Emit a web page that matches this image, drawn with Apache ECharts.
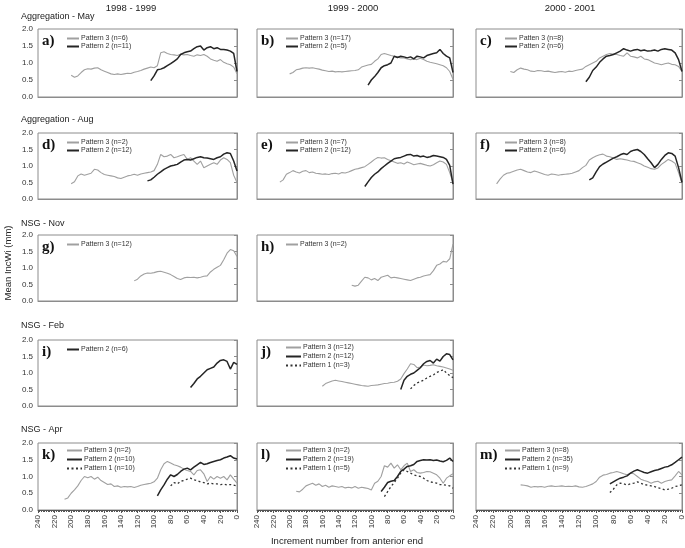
<!DOCTYPE html>
<html><head><meta charset="utf-8">
<script src="https://cdn.jsdelivr.net/npm/echarts@6/dist/echarts.min.js"></script>
<style>html,body{margin:0;padding:0;background:#fff}#c{width:685px;height:548px}</style>
</head><body><div id="c"></div>
<script>
// ---- DATA (values sampled every 4 increments, last value = increment 0) ----
const xTicks = [240,220,200,180,160,140,120,100,80,60,40,20,0];
const yTicks = [0.0,0.5,1.0,1.5,2.0];
const colTitles = ['1998 - 1999','1999 - 2000','2000 - 2001'];
const rowTitles = ['Aggregation - May','Aggregation - Aug','NSG - Nov','NSG - Feb','NSG - Apr'];

const a_p3 = [0.64,0.58,0.62,0.72,0.80,0.83,0.82,0.85,0.86,0.80,0.76,0.72,0.68,0.66,0.68,0.66,0.68,0.70,0.69,0.73,0.75,0.78,0.82,0.85,0.88,0.86,0.92,1.30,1.33,1.28,1.25,1.24,1.22,1.26,1.24,1.25,1.22,1.20,1.24,1.22,1.25,1.20,1.12,1.08,1.05,1.10,1.02,0.98,0.95,0.88,0.68];
const a_p2 = [0.48,0.62,0.80,0.82,0.86,0.92,0.98,1.05,1.12,1.25,1.30,1.33,1.35,1.42,1.48,1.50,1.38,1.45,1.48,1.42,1.45,1.40,1.40,1.38,1.35,1.28,0.75];

const b_p3 = [0.68,0.72,0.80,0.82,0.85,0.86,0.85,0.86,0.84,0.82,0.79,0.77,0.75,0.76,0.74,0.75,0.74,0.75,0.76,0.77,0.78,0.80,0.88,0.91,0.94,0.96,1.05,1.12,1.25,1.28,1.25,1.22,1.20,1.18,1.15,1.15,1.12,1.10,1.12,1.10,1.14,1.10,1.05,1.02,1.00,0.98,0.95,0.92,0.86,0.75,0.52];
const b_p2 = [0.35,0.50,0.60,0.72,0.86,0.92,0.95,1.00,1.20,1.16,1.20,1.18,1.15,1.18,1.12,1.20,1.18,1.15,1.22,1.25,1.28,1.30,1.40,1.28,1.20,1.15,0.72];

const c_p3 = [0.75,0.72,0.80,0.85,0.82,0.80,0.76,0.75,0.78,0.77,0.75,0.76,0.74,0.72,0.74,0.75,0.73,0.76,0.75,0.78,0.80,0.82,0.90,0.95,1.00,1.05,1.15,1.20,1.25,1.28,1.26,1.25,1.22,1.20,1.30,1.20,1.18,1.15,1.20,1.12,1.10,1.05,1.00,0.98,0.95,0.98,1.00,0.96,0.95,0.90,0.75];
const c_p2 = [0.45,0.58,0.78,0.88,1.02,1.12,1.20,1.22,1.25,1.30,1.35,1.42,1.38,1.35,1.38,1.40,1.36,1.38,1.35,1.36,1.38,1.35,1.40,1.42,1.40,1.38,1.30,1.10,0.75];

const d_p3 = [0.46,0.52,0.70,0.76,0.72,0.75,0.78,0.90,0.88,0.80,0.74,0.72,0.70,0.68,0.64,0.62,0.66,0.70,0.72,0.75,0.72,0.76,0.78,0.80,0.82,0.86,1.05,1.35,1.28,1.30,1.35,1.25,1.28,1.32,1.35,1.20,1.25,1.15,1.05,1.15,0.95,1.00,1.05,1.10,1.05,1.18,1.25,1.20,1.10,0.72,0.50];
const d_p2 = [0.55,0.58,0.66,0.75,0.82,0.90,0.95,1.00,1.02,1.05,1.12,1.18,1.20,1.18,1.22,1.26,1.28,1.25,1.24,1.22,1.20,1.25,1.28,1.36,1.40,1.38,1.15,0.85];

const e_p3 = [0.51,0.58,0.75,0.80,0.86,0.82,0.79,0.84,0.86,0.80,0.82,0.78,0.77,0.75,0.76,0.74,0.77,0.78,0.76,0.80,0.79,0.82,0.86,0.90,0.92,0.95,0.98,1.05,1.12,1.20,1.26,1.24,1.25,1.20,1.16,1.12,1.08,1.10,1.06,1.12,1.08,1.04,1.06,1.08,1.05,1.02,1.00,1.04,1.10,1.15,1.12,1.05,0.80,0.50];
const e_p2 = [0.38,0.52,0.65,0.75,0.82,0.92,1.00,1.08,1.15,1.22,1.24,1.26,1.30,1.34,1.35,1.30,1.32,1.28,1.30,1.26,1.28,1.32,1.30,1.28,1.26,1.20,1.02,0.45];

const f_p3 = [0.46,0.60,0.72,0.78,0.80,0.84,0.88,0.90,0.86,0.82,0.80,0.85,0.82,0.78,0.74,0.72,0.76,0.74,0.72,0.74,0.75,0.76,0.78,0.82,0.86,0.95,1.02,1.18,1.25,1.30,1.34,1.36,1.30,1.28,1.24,1.20,1.22,1.20,1.18,1.15,1.14,1.10,1.06,1.00,0.96,0.92,0.90,0.94,1.05,1.12,1.20,1.15,1.08,0.80,0.48];
const f_p2 = [0.58,0.64,0.82,0.98,1.06,1.12,1.18,1.24,1.28,1.34,1.38,1.35,1.44,1.48,1.50,1.44,1.35,1.22,1.10,0.95,1.05,1.20,1.32,1.40,1.38,1.30,0.95,0.50];

const g_p3 = [0.61,0.66,0.76,0.82,0.85,0.84,0.86,0.89,0.90,0.87,0.84,0.80,0.74,0.68,0.65,0.70,0.72,0.71,0.72,0.70,0.72,0.75,0.76,0.88,0.96,1.02,1.08,1.25,1.45,1.56,1.52,1.35];

const h_p3 = [0.48,0.45,0.48,0.60,0.72,0.70,0.64,0.68,0.62,0.72,0.75,0.78,0.70,0.72,0.70,0.68,0.66,0.64,0.62,0.66,0.70,0.72,0.76,0.78,0.80,0.92,1.08,1.12,1.20,1.18,1.28,1.72];

const i_p2 = [0.56,0.68,0.82,0.90,1.00,1.10,1.14,1.18,1.30,1.38,1.40,1.35,1.12,1.32,1.26];

const j_p3 = [0.60,0.68,0.72,0.76,0.78,0.76,0.74,0.72,0.70,0.68,0.66,0.64,0.62,0.61,0.60,0.62,0.63,0.64,0.66,0.68,0.69,0.71,0.72,0.75,0.82,0.98,1.12,1.28,1.26,1.16,1.18,1.24,1.22,1.23,1.25,1.22,1.20,1.18,1.15,1.12,1.08];
const j_p2 = [0.50,0.78,0.90,0.96,1.00,1.08,1.16,1.28,1.35,1.38,1.30,1.42,1.36,1.50,1.58,1.56,1.40];
const j_p1 = [0.52,0.62,0.70,0.74,0.78,0.85,0.90,0.94,1.02,1.05,1.10,1.00,0.92,0.86];

const k_p3 = [0.32,0.36,0.50,0.60,0.72,0.88,1.00,0.96,1.00,0.92,0.98,0.88,0.82,0.76,0.78,0.70,0.72,0.68,0.70,0.69,0.70,0.67,0.70,0.74,0.76,0.78,0.80,0.84,0.95,1.20,1.38,1.45,1.40,1.35,1.32,1.28,1.22,1.18,1.15,1.05,1.18,1.20,1.08,0.85,1.00,0.92,1.00,0.95,1.00,0.90,1.05,0.92,0.80];
const k_p2 = [0.42,0.60,0.75,0.92,1.05,1.00,1.06,1.15,1.22,1.25,1.20,1.28,1.35,1.42,1.36,1.38,1.42,1.45,1.48,1.50,1.55,1.58,1.62,1.55,1.52];
const k_p1 = [0.72,0.82,0.78,0.86,0.88,0.92,0.95,0.90,0.88,0.84,0.82,0.78,0.80,0.78,0.78,0.76,0.77,0.75,0.76,0.74,0.72];

const l_p3 = [0.56,0.54,0.62,0.72,0.76,0.80,0.74,0.78,0.70,0.74,0.68,0.72,0.70,0.68,0.70,0.66,0.68,0.66,0.70,0.65,0.68,0.66,0.64,0.60,0.80,0.86,1.00,1.32,1.28,1.40,1.25,1.35,1.20,1.32,1.40,1.15,1.20,1.12,1.10,1.12,1.15,1.14,1.10,1.05,0.95,0.80,0.95,1.02,1.08];
const l_p2 = [0.55,0.68,0.82,0.86,0.88,1.00,1.15,1.22,1.30,1.32,1.36,1.45,1.48,1.50,1.49,1.50,1.48,1.49,1.46,1.44,1.48,1.55,1.45];
const l_p1 = [0.40,0.55,0.70,0.82,0.95,1.10,1.20,1.15,1.10,1.05,1.02,1.00,0.95,0.88,0.84,0.82,0.80,0.76,0.75,0.74,0.72,0.65];

const m_p3 = [0.75,0.74,0.72,0.68,0.70,0.69,0.70,0.68,0.71,0.72,0.70,0.71,0.72,0.70,0.71,0.70,0.72,0.69,0.68,0.70,0.74,0.78,0.85,0.98,1.04,1.06,1.10,1.12,1.15,1.12,1.08,1.05,1.10,1.08,1.00,0.92,0.88,0.85,0.80,0.84,0.86,0.80,0.85,0.88,0.90,1.02,1.15,1.05];
const m_p2 = [0.78,0.84,0.90,0.95,0.98,1.02,1.10,1.16,1.20,1.16,1.12,1.10,1.14,1.18,1.20,1.24,1.28,1.30,1.35,1.42,1.50,1.58];
const m_p1 = [0.52,0.62,0.75,0.80,0.78,0.75,0.78,0.80,0.84,0.80,0.76,0.74,0.72,0.70,0.66,0.64,0.60,0.62,0.65,0.70,0.72,0.75];

const STEP = 4; // increments between samples

// ---- PANELS ----
const panels = [
  {row:0,col:0,letter:'a)',s:[['Pattern 3 (n=6)',a_p3,3],['Pattern 2 (n=11)',a_p2,2]]},
  {row:0,col:1,letter:'b)',s:[['Pattern 3 (n=17)',b_p3,3],['Pattern 2 (n=5)',b_p2,2]]},
  {row:0,col:2,letter:'c)',s:[['Patten 3 (n=8)',c_p3,3],['Patten 2 (n=6)',c_p2,2]]},
  {row:1,col:0,letter:'d)',s:[['Pattern 3 (n=2)',d_p3,3],['Pattern 2 (n=12)',d_p2,2]]},
  {row:1,col:1,letter:'e)',s:[['Pattern 3 (n=7)',e_p3,3],['Pattern 2 (n=12)',e_p2,2]]},
  {row:1,col:2,letter:'f)',s:[['Pattern 3 (n=8)',f_p3,3],['Pattern 2 (n=6)',f_p2,2]]},
  {row:2,col:0,letter:'g)',s:[['Pattern 3 (n=12)',g_p3,3]]},
  {row:2,col:1,letter:'h)',s:[['Pattern 3 (n=2)',h_p3,3]]},
  {row:3,col:0,letter:'i)',s:[['Pattern 2 (n=6)',i_p2,2]]},
  {row:3,col:1,letter:'j)',s:[['Pattern 3 (n=12)',j_p3,3],['Pattern 2 (n=12)',j_p2,2],['Pattern 1 (n=3)',j_p1,1]]},
  {row:4,col:0,letter:'k)',s:[['Pattern 3 (n=2)',k_p3,3],['Pattern 2 (n=10)',k_p2,2],['Pattern 1 (n=10)',k_p1,1]]},
  {row:4,col:1,letter:'l)',s:[['Pattern 3 (n=2)',l_p3,3],['Pattern 2 (n=19)',l_p2,2],['Pattern 1 (n=5)',l_p1,1]]},
  {row:4,col:2,letter:'m)',s:[['Pattern 3 (n=8)',m_p3,3],['Pattern 2 (n=35)',m_p2,2],['Pattern 1 (n=9)',m_p1,1]]}
];

// ---- LAYOUT ----
const colX = [[38,237],[257,453],[476,682]];
const rowY = [[29,97],[133,199],[235,301],[340,406],[443,510]];
const SANS = '"Liberation Sans", Arial, sans-serif';
const SERIF = '"Liberation Serif", "Times New Roman", serif';
const styles = {
  3:{color:'#a0a0a0',width:1.1,type:'solid'},
  2:{color:'#252525',width:1.5,type:'solid'},
  1:{color:'#333333',width:1.3,type:[2,2.5]}
};

const grids=[],xAxes=[],yAxes=[],series=[],legends=[],graphics=[];
panels.forEach((p,idx)=>{
  const [L,R]=colX[p.col],[T,B]=rowY[p.row];
  const bottom = p.row===4;
  grids.push({left:L,top:T,width:R-L,height:B-T,show:true,borderColor:'#8c8c8c',borderWidth:1,containLabel:false,outerBoundsMode:'none'});
  xAxes.push({gridIndex:idx,type:'value',inverse:true,min:0,max:240,interval:20,
    axisLine:{show:true,onZero:false,lineStyle:{color:bottom?'#555':'#8c8c8c',width:1}},
    axisTick:{show:bottom,length:3,lineStyle:{color:'#555'}},
    minorTick:{show:bottom,splitNumber:10,length:2,lineStyle:{color:'#555'}},
    axisLabel:{show:bottom,rotate:90,fontSize:8,color:'#333',fontFamily:SANS,margin:5},
    splitLine:{show:false}});
  yAxes.push({gridIndex:idx,type:'value',min:0,max:2,interval:0.5,
    axisLine:{show:true,lineStyle:{color:'#8c8c8c'}},
    axisTick:{show:true,length:3,lineStyle:{color:'#8c8c8c'}},
    axisLabel:{show:p.col===0,fontSize:8,color:'#333',fontFamily:SANS,margin:5,formatter:v=>v.toFixed(1)},
    splitLine:{show:false}});
  const three = p.s.length===3;
  p.s.forEach(([name,vals,pat])=>{
    const n=vals.length;
    series.push({type:'line',name,xAxisIndex:idx,yAxisIndex:idx,symbol:'none',silent:true,
      lineStyle:styles[pat],itemStyle:{color:styles[pat].color},
      data:vals.map((v,i)=>[STEP*(n-1-i),v])});
  });
  legends.push({left:L+28,top:T+(three?4:6),orient:'vertical',itemWidth:three?15:12,itemHeight:8,itemGap:three?2:1,
    padding:0,selectedMode:false,data:p.s.map(s=>s[0]),
    itemStyle:{opacity:0,borderWidth:0},
    textStyle:{fontSize:7,color:'#333',fontFamily:SANS,padding:[0,0,0,-3]}});
  graphics.push({type:'text',x:L+4,y:T+5,style:{text:p.letter,font:'bold 15px '+SERIF,fill:'#111'}});
});

colTitles.forEach((t,i)=>{
  const cx=[131,353,570][i];
  graphics.push({type:'text',x:cx,y:8,style:{text:t,font:'9.5px '+SANS,fill:'#222',textAlign:'center',textVerticalAlign:'middle'}});
});
const rowLabelY=[17,120,224,326,430];
rowTitles.forEach((t,i)=>{
  graphics.push({type:'text',x:21,y:rowLabelY[i],style:{text:t,font:'9px '+SANS,fill:'#222',textAlign:'left',textVerticalAlign:'middle'}});
});
graphics.push({type:'text',x:8,y:263,rotation:Math.PI/2,style:{text:'Mean IncWi (mm)',font:'9.5px '+SANS,fill:'#222',textAlign:'center',textVerticalAlign:'middle'}});
graphics.push({type:'text',x:347,y:541,style:{text:'Increment number from anterior end',font:'9.5px '+SANS,fill:'#222',textAlign:'center',textVerticalAlign:'middle'}});

const chart=echarts.init(document.getElementById('c'),null,{renderer:'canvas'});
chart.setOption({animation:false,backgroundColor:'#fff',grid:grids,xAxis:xAxes,yAxis:yAxes,series,legend:legends,graphic:graphics});
</script></body></html>
